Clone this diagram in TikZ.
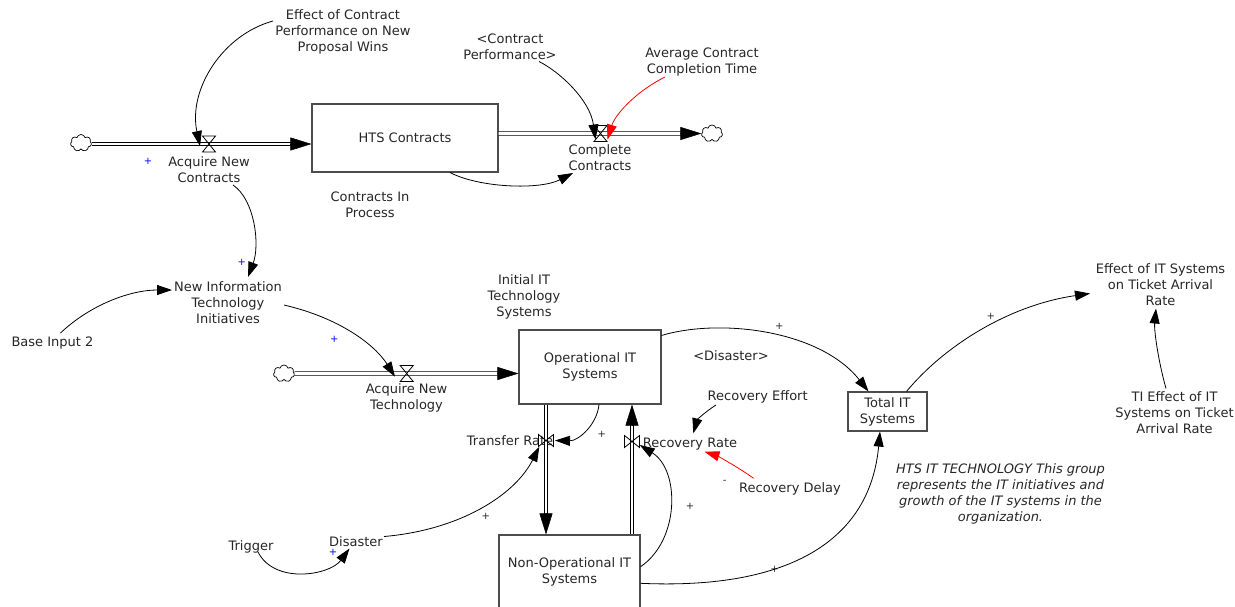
\documentclass[tikz,border=0pt]{standalone}
\usepackage{fontspec}
\setmainfont{DejaVu Sans}
\usetikzlibrary{arrows.meta,shapes.symbols,calc}
\tikzset{
  lbl/.style={font=\fontsize{13}{16}\selectfont, align=center, inner sep=1pt, text=black!85},
  notelbl/.style={font=\fontsize{13}{16}\selectfont\itshape, align=center, inner sep=1pt, text=black!85},
  stockbox/.style={draw=black!70, line width=1.1pt, inner sep=0pt, align=center, text=black!85, font=\fontsize{13}{16}\selectfont},
  link/.style={line width=0.8pt, -{Triangle[length=15pt,width=10pt]}},
  redlink/.style={link, draw=red},
  pipe/.style={draw=black, double=white, double distance=2.6pt, line width=0.8pt},
  pipehead/.style={line width=0.5pt, -{Triangle[length=21pt,width=13pt]}},
  cloudnode/.style={cloud, cloud puffs=7, draw, line width=0.7pt, minimum width=21pt, minimum height=17pt, inner sep=0pt, aspect=1.3},
  bluesign/.style={font=\fontsize{10}{10}\selectfont, text=blue, inner sep=0pt},
  sgn/.style={font=\fontsize{10}{10}\selectfont, inner sep=0pt, text=black!85},
  hvalvepic/.pic={\draw[line width=0.8pt] (-6.5,-8) -- (6.5,-8) -- (-6.5,8) -- (6.5,8) -- cycle;},
  vvalvepic/.pic={\draw[line width=0.8pt] (-7.5,-6) -- (-7.5,6) -- (7.5,-6) -- (7.5,6) -- cycle;}
}
\begin{document}
\begin{tikzpicture}[x=1pt,y=-1pt]
\useasboundingbox (0,0) rectangle (1235,606);
\clip (0,0) rectangle (1235,606);

% ---------- stocks ----------
\node[stockbox, minimum width=186pt, minimum height=68pt] (hts) at (405,138) {HTS Contracts};
\node[stockbox, minimum width=142pt, minimum height=74pt] (ops) at (590,367) {Operational IT\\Systems};
\node[stockbox, minimum width=141pt, minimum height=74pt] (nop) at (569.5,572) {Non-Operational IT\\Systems};
\node[stockbox, minimum width=79pt, minimum height=39pt] (tot) at (887.5,411.5) {Total IT\\Systems};

% ---------- clouds and valves ----------
\node[cloudnode] (c1) at (81,143) {};
\node[cloudnode] (c2) at (712,133.5) {};
\node[cloudnode] (c3) at (284,373.5) {};
\coordinate (v1) at (209,144);
\coordinate (v2) at (600.5,133.5);
\coordinate (v3) at (406.7,373.5);
\coordinate (v4) at (546,440.5);
\coordinate (v5) at (632,441.5);

% ---------- labels ----------
\node[lbl] (acq) at (209,169.5) {Acquire New\\Contracts};
\node[lbl] (eff) at (343,32) {Effect of Contract\\Performance on New\\Proposal Wins};
\node[lbl] (cip) at (370,204.5) {Contracts In\\Process};
\node[lbl] (cp) at (510,46.5) {<Contract\\Performance>};
\node[lbl] (acct) at (702,62) {Average Contract\\Completion Time};
\node[lbl] (cc) at (600,157.5) {Complete\\Contracts};
\node[lbl] (nit) at (228,303) {New Information\\Technology\\Initiatives};
\node[lbl] (base) at (52.5,343) {Base Input 2};
\node[lbl] (ant) at (406.5,397.5) {Acquire New\\Technology};
\node[lbl] (iit) at (524,297) {Initial IT\\Technology\\Systems};
\node[lbl] (dis2) at (731,356) {<Disaster>};
\node[lbl] (eit) at (1160.5,284.5) {Effect of IT Systems\\on Ticket Arrival\\Rate};
\node[lbl] (tie) at (1174.5,412.5) {TI Effect of IT\\Systems on Ticket\\Arrival Rate};
\node[notelbl] (note) at (1000.5,494) {HTS IT TECHNOLOGY This group\\represents the IT initiatives and\\growth of the IT systems in the\\organization.};
\node[lbl] (tr) at (510,441) {Transfer Rate};
\node[lbl] (rr) at (690,444) {Recovery Rate};
\node[lbl] (re) at (757.7,397) {Recovery Effort};
\node[lbl] (rd) at (790,489) {Recovery Delay};
\node[lbl] (dis) at (356,541.5) {Disaster};
\node[lbl] (trig) at (251,547) {Trigger};

% ---------- polarity signs ----------
\node[bluesign] (p1) at (148,161) {+};
\node[bluesign] (p2) at (241.7,262.3) {+};
\node[bluesign] (p3) at (334.3,339.3) {+};
\node[bluesign] (p8) at (333,552.7) {+};
\node[sgn] (p4) at (779.3,326.7) {+};
\node[sgn] (p5) at (990.7,316.7) {+};
\node[sgn] (p6) at (601.7,434) {+};
\node[sgn] (p7) at (690,506) {+};
\node[sgn] (p9) at (485.7,516.7) {+};
\node[sgn] (p10) at (774.5,569.3) {+};
\node[sgn] (m1) at (724.6,482.3) {-};

% ---------- pipes ----------
\draw[pipe] (c1.east |- v1) -- ($(hts.west |- v1)+(-15,0)$);
\draw[pipehead] ($(hts.west |- v1)+(-21,0)$) -- (hts.west |- v1);
\draw[pipe] (hts.east |- v2) -- ($(c2.west)+(-15,0)$);
\draw[pipehead] ($(c2.west)+(-21,0)$) -- (c2.west);
\draw[pipe] (c3.east) -- ($(ops.west |- v3)+(-15,0)$);
\draw[pipehead] ($(ops.west |- v3)+(-21,0)$) -- (ops.west |- v3);
\draw[pipe] (ops.south -| v4) -- ($(nop.north -| v4)+(0,-15)$);
\draw[pipehead] ($(nop.north -| v4)+(0,-21)$) -- (nop.north -| v4);
\draw[pipe] (nop.north -| v5) -- ($(ops.south -| v5)+(0,15)$);
\draw[pipehead] ($(ops.south -| v5)+(0,21)$) -- (ops.south -| v5);

\pic at (v1) {hvalvepic};
\pic at (v2) {hvalvepic};
\pic at (v3) {hvalvepic};
\pic at (v4) {vvalvepic};
\pic at (v5) {vvalvepic};

% ---------- links ----------
\draw[link] ($(eff.center)+(-70,-11)$) .. controls (222,35) and (188,90) .. ($(v1)+(-9,2)$);
\draw[link] ($(cp.center)+(29,15)$) .. controls (560,72) and (590,100) .. ($(v2)+(-5,6)$);
\draw[redlink] ($(acct.center)+(-37,15)$) .. controls (635,92) and (615,115) .. ($(v2)+(7,6)$);
\draw[link] ($(hts.south)+(45,0)$) .. controls (480,188) and (540,190) .. ($(cc.center)+(-27,15.5)$);
\draw[link] ($(acq.center)+(24,15.5)$) .. controls (255,200) and (260,245) .. ($(nit.center)+(20,-26)$);
\draw[link] ($(base.center)+(8,-10)$) .. controls (90,305) and (130,290) .. ($(nit.center)+(-56,-13)$);
\draw[link] ($(nit.center)+(56,2)$) .. controls (340,318) and (375,345) .. ($(v3)+(-11.7,3.2)$);
\draw[link] ($(ops.north east)+(0,6)$) .. controls (720,318) and (820,330) .. ($(tot.north)+(-19,0)$);
\draw[link] ($(tot.north)+(19,0)$) .. controls (945,345) and (1010,305) .. ($(eit.center)+(-70.5,9)$);
\draw[link] ($(tie.center)+(-8.5,-24)$) .. controls (1158,360) and (1154,330) .. ($(eit.center)+(-4.5,24)$);
\draw[link] ($(ops.south)+(9,0)$) .. controls (597,425) and (578,441) .. ($(v4)+(9,0)$);
\draw[link] ($(re.center)+(-41.7,8)$) .. controls (705,412) and (697,420) .. ($(rr.center)+(3.3,-10.7)$);
\draw[redlink] ($(rd.center)+(-36.4,-10.7)$) .. controls (735,465) and (715,455) .. ($(rr.center)+(14.5,7.7)$);
\draw[link] ($(nop.east)+(0,-5.3)$) .. controls (680,540) and (680,470) .. ($(v5)+(7.7,3.5)$);
\draw[link] ($(nop.east)+(0,11.3)$) .. controls (790,590) and (870,540) .. ($(tot.south)+(-7.5,0)$);
\draw[link] ($(dis.center)+(28,-5)$) .. controls (460,530) and (515,495) .. ($(v4)+(-6.7,6.2)$);
\draw[link] ($(trig.center)+(7,5)$) .. controls (275,585) and (330,575) .. ($(dis.center)+(-6.5,7)$);
\end{tikzpicture}
\end{document}
